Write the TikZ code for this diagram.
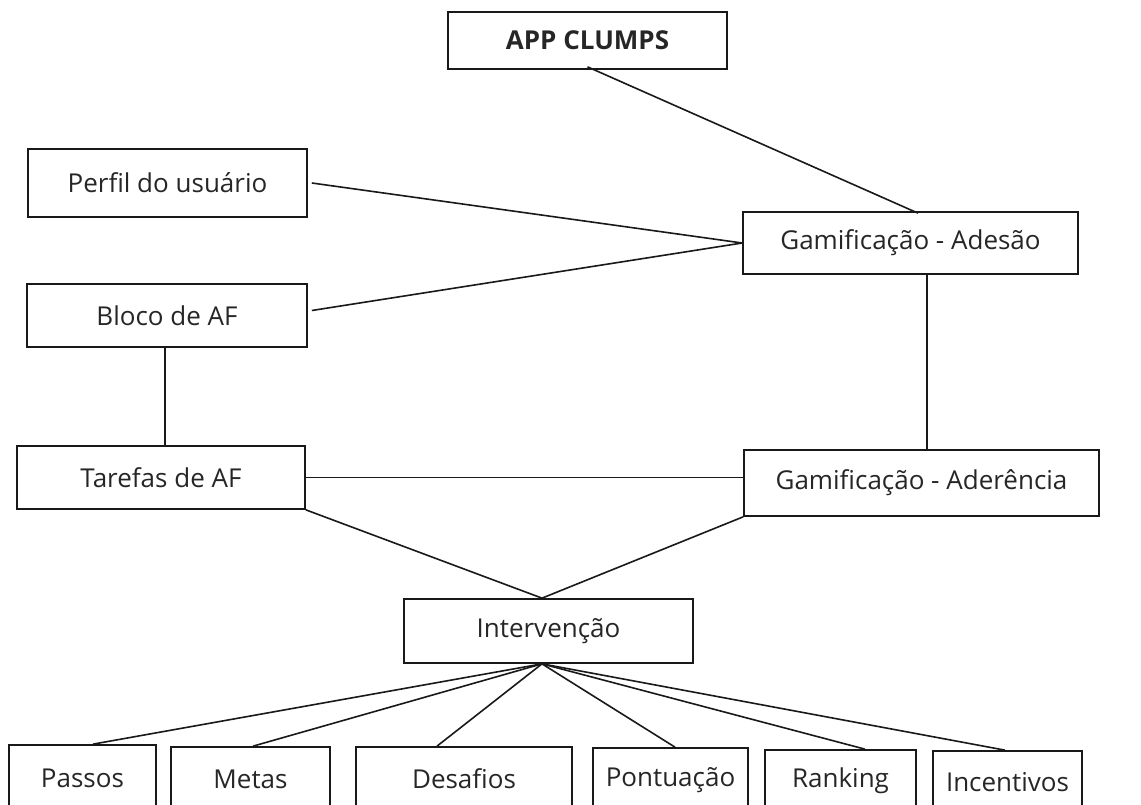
\documentclass[tikz,border=0pt]{standalone}
\usepackage{fontspec}
\setmainfont{Open Sans}
\begin{document}
\begin{tikzpicture}[x=1pt,y=-1pt,
  box/.style={draw=black!90, line width=1.7pt, rectangle, inner sep=0pt, text=black!85,
    font=\fontsize{26}{30}\selectfont},
  link/.style={draw=black!90, line width=1.6pt}]
\useasboundingbox (0,0) rectangle (1141,805);
\clip (0,0) rectangle (1141,805);
\node[box, minimum width=279, minimum height=57, font=\fontsize{26}{30}\selectfont\bfseries] (app) at (587.5,40.5) {APP CLUMPS};
\node[box, minimum width=279, minimum height=68] (perfil) at (167.5,183) {Perfil do usuário};
\node[box, minimum width=280, minimum height=63] (bloco) at (167,315.5) {Bloco de AF};
\node[box, minimum width=335, minimum height=62] (ades) at (910.5,243) {Gamificação - Adesão};
\node[box, minimum width=355, minimum height=66] (ader) at (921.5,483) {Gamificação - Aderência};
\node[box, minimum width=288, minimum height=63] (tarefas) at (161,477.5) {Tarefas de AF};
\node[box, minimum width=289, minimum height=64] (interv) at (548.5,631) {Intervenção};
\node[box, minimum width=147, minimum height=66] (passos) at (82.5,778) {Passos};
\node[box, minimum width=159, minimum height=64] (metas) at (250.5,779) {Metas};
\node[box, minimum width=216, minimum height=64] (desafios) at (464,779) {Desafios};
\node[box, minimum width=155, minimum height=64] (pont) at (670.5,780) {Pontuação};
\node[box, minimum width=151, minimum height=62] (rank) at (840.5,781) {Ranking};
\node[box, minimum width=149, minimum height=62] (incent) at (1007.5,782) {Incentivos};
\coordinate (top) at ([xshift=-6.5]interv.north);
\coordinate (hub) at ([xshift=-6.5]interv.south);
\draw[link] ([yshift=3]app.south) -- ([xshift=7.5,yshift=-2]ades.north);
\draw[link] ([xshift=4]perfil.east) -- (ades.west);
\draw[link] ([xshift=4,yshift=5]bloco.east) -- (ades.west);
\draw[link] ([xshift=-2]bloco.south) -- ([xshift=-2]bloco.south |- tarefas.north);
\draw[link] ([xshift=16.5]ades.south) -- ([xshift=16.5]ades.south |- ader.north);
\draw[link] (tarefas.east) -- (tarefas.east -| ader.west);
\draw[link] (tarefas.south east) -- (top);
\draw[link] (ader.south west) -- (top);
\draw[link] (hub) -- ([xshift=10.5]passos.north);
\draw[link] (hub) -- ([xshift=2.5]metas.north);
\draw[link] (hub) -- ([xshift=-27]desafios.north);
\draw[link] (hub) -- ([xshift=4.5]pont.north);
\draw[link] (hub) -- ([xshift=24.5]rank.north);
\draw[link] (hub) -- ([xshift=-2.5]incent.north);
\end{tikzpicture}
\end{document}
